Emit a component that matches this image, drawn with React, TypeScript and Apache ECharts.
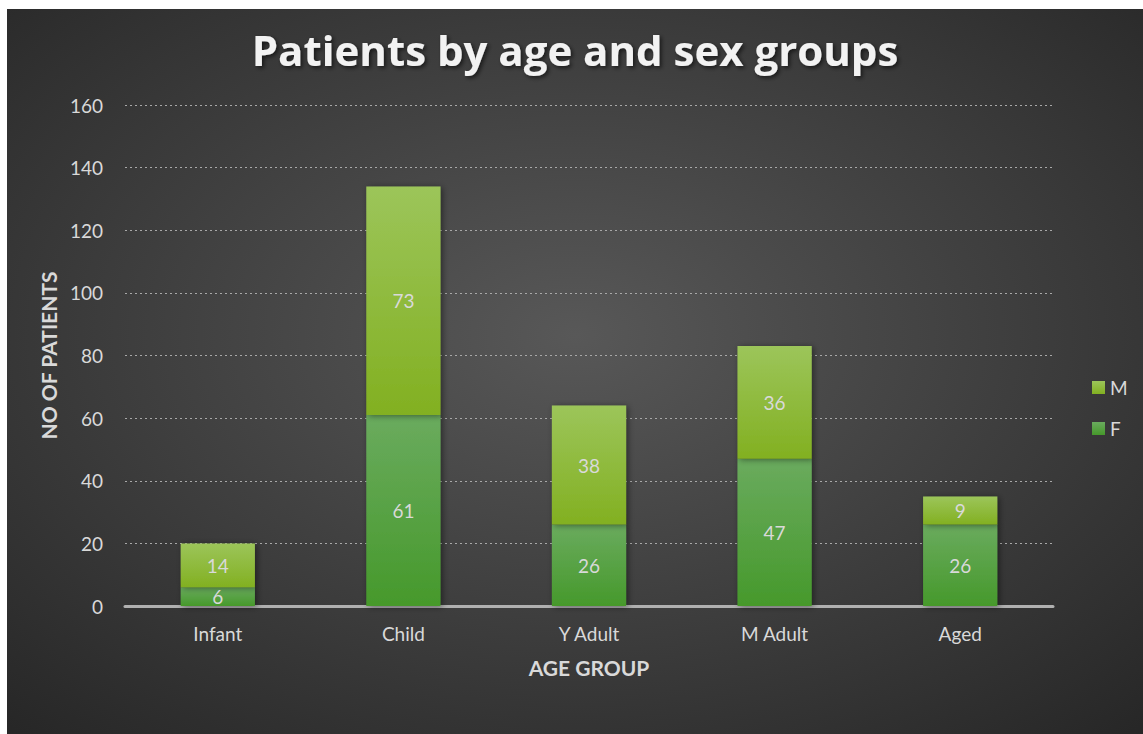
import React, { useEffect, useRef } from "react";
import * as echarts from "echarts";

const categories = ["Infant", "Child", "Y Adult", "M Adult", "Aged"];
const femaleValues = [6, 61, 26, 47, 26];
const maleValues = [14, 73, 38, 36, 9];
const yTicks = { min: 0, max: 160, interval: 20 };

const FONT = "Lato, 'Open Sans', sans-serif";
const TXT = "#d9d9d9";

export default function App() {
  const ref = useRef<HTMLDivElement>(null);
  useEffect(() => {
    if (!ref.current) return;
    const chart = echarts.init(ref.current, undefined, { renderer: "svg" });
    const barShadow = {
      shadowBlur: 6,
      shadowColor: "rgba(0,0,0,0.45)",
      shadowOffsetX: 2,
      shadowOffsetY: 1,
    };
    const labelStyle = {
      show: true,
      position: "inside",
      color: TXT,
      fontSize: 19,
      fontFamily: FONT,
    };
    chart.setOption({
      animation: false,
      backgroundColor: new echarts.graphic.RadialGradient(0.5, 0.45, 0.75, [
        { offset: 0, color: "#585858" },
        { offset: 1, color: "#262626" },
      ]),
      title: {
        text: "Patients by age and sex groups",
        left: "center",
        top: 14,
        textStyle: {
          color: "#f2f2f2",
          fontSize: 42,
          fontWeight: "bold",
          fontFamily: "'Open Sans', sans-serif",
          textShadowColor: "rgba(0,0,0,0.6)",
          textShadowBlur: 4,
          textShadowOffsetX: 2,
          textShadowOffsetY: 2,
        },
      },
      legend: {
        data: ["M", "F"],
        orient: "vertical",
        left: 1080,
        top: 364,
        itemWidth: 13,
        itemHeight: 13,
        itemGap: 22,
        icon: "rect",
        textStyle: { color: TXT, fontSize: 19, fontFamily: FONT },
      },
      grid: { left: 118, right: 90, top: 96, bottom: 128 },
      xAxis: {
        type: "category",
        data: categories,
        name: "AGE GROUP",
        nameLocation: "middle",
        nameGap: 51,
        nameTextStyle: { color: TXT, fontSize: 21, fontWeight: "bold", fontFamily: FONT },
        axisLine: { show: true, lineStyle: { color: "#b0b0b0", width: 3 } },
        axisTick: { show: false },
        axisLabel: { color: TXT, fontSize: 19, fontFamily: FONT, margin: 18 },
      },
      yAxis: {
        type: "value",
        min: yTicks.min,
        max: yTicks.max,
        interval: yTicks.interval,
        name: "NO OF PATIENTS",
        nameLocation: "middle",
        nameGap: 62,
        nameTextStyle: { color: TXT, fontSize: 21, fontWeight: "bold", fontFamily: FONT },
        axisLine: { show: false },
        axisTick: { show: false },
        axisLabel: { color: TXT, fontSize: 19, fontFamily: FONT, margin: 22 },
        splitLine: { lineStyle: { color: "#a8a8a8", type: [2, 3], width: 1 } },
      },
      series: [
        {
          name: "F",
          type: "bar",
          stack: "total",
          data: femaleValues,
          barWidth: "40%",
          label: labelStyle,
          itemStyle: {
            color: new echarts.graphic.LinearGradient(0, 0, 0, 1, [
              { offset: 0, color: "#6aab5e" },
              { offset: 1, color: "#46992b" },
            ]),
            ...barShadow,
          },
        },
        {
          name: "M",
          type: "bar",
          stack: "total",
          data: maleValues,
          barWidth: "40%",
          label: labelStyle,
          itemStyle: {
            color: new echarts.graphic.LinearGradient(0, 0, 0, 1, [
              { offset: 0, color: "#9cc55a" },
              { offset: 1, color: "#82b021" },
            ]),
            ...barShadow,
          },
        },
      ],
    });
    return () => chart.dispose();
  }, []);
  return (
    <div
      ref={ref}
      style={{ position: "absolute", left: 7, top: 9, width: 1136, height: 725 }}
    />
  );
}
